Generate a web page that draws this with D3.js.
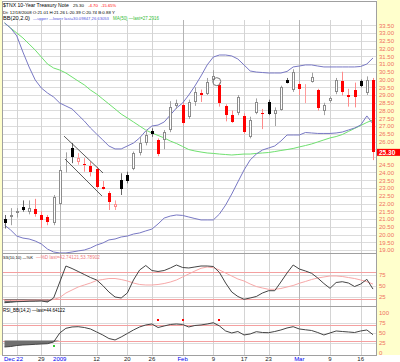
<!DOCTYPE html>
<html>
<head>
<meta charset="utf-8">
<script src="https://cdn.jsdelivr.net/npm/d3@7"></script>
<style>
body { margin: 0; background: #fff; }
svg { display: block; font-family: "Liberation Sans Narrow", "Liberation Sans", Arial, sans-serif; }
</style>
</head>
<body>
<div id="chart"></div>
<script>
// $TNX daily candles, Dec 18 2008 - Mar 18 2009

var dates = [
    "12/18", "12/19", "12/22", "12/23", "12/24", "12/26", "12/29", "12/30", "12/31",
    "1/2", "1/5", "1/6", "1/7", "1/8", "1/9", "1/12", "1/13", "1/14", "1/15", "1/16",
    "1/20", "1/21", "1/22", "1/23", "1/26", "1/27", "1/28", "1/29", "1/30",
    "2/2", "2/3", "2/4", "2/5", "2/6", "2/9", "2/10", "2/11", "2/12", "2/13",
    "2/17", "2/18", "2/19", "2/20", "2/23", "2/24", "2/25", "2/26", "2/27",
    "3/2", "3/3", "3/4", "3/5", "3/6", "3/9", "3/10", "3/11", "3/12", "3/13",
    "3/16", "3/17", "3/18"
];

var opens = [21.01, 21.11, 21.40, 21.79, 21.47, 21.63, 21.26, 21.11, 20.72,
    21.97, 24.80, 25.56, 24.70, 24.55, 24.42, 24.20, 23.04, 22.70, 21.79, 23.52,
    23.84, 24.20, 25.24, 25.88, 26.68, 26.10, 26.10, 26.74, 28.30,
    28.35, 27.60, 28.57, 29.10, 29.06, 29.95, 29.65, 28.30, 27.70, 27.86,
    27.65, 26.31, 27.86, 27.85, 28.57, 27.80, 28.03, 30.00, 29.32,
    29.70, 29.30, 29.86, 29.32, 27.99, 28.60, 29.21, 29.90, 29.00, 29.32,
    29.90, 29.10, 30.00];
var highs = [21.26, 21.70, 21.70, 22.20, 22.20, 22.30, 21.50, 21.26, 22.55,
    24.40, 25.30, 25.90, 25.25, 24.92, 24.70, 24.35, 23.45, 22.80, 22.20, 23.95,
    24.05, 25.35, 26.30, 26.75, 26.85, 26.20, 26.74, 28.60, 28.70,
    28.50, 28.70, 29.50, 29.35, 30.10, 30.60, 29.80, 28.40, 28.00, 29.00,
    27.82, 27.60, 28.78, 28.10, 28.70, 28.20, 29.60, 30.10, 30.66,
    29.85, 29.70, 30.44, 29.40, 28.50, 28.90, 30.10, 30.50, 29.40, 29.80,
    30.00, 30.20, 30.10];
var lows = [20.39, 20.60, 21.10, 21.47, 21.30, 21.15, 20.42, 20.60, 20.60,
    21.90, 24.00, 24.60, 24.50, 24.05, 23.75, 22.95, 22.90, 21.58, 21.58, 22.55,
    23.30, 24.15, 25.10, 25.75, 26.30, 25.05, 25.50, 26.60, 28.10,
    27.05, 27.45, 28.30, 28.55, 29.00, 29.80, 28.25, 27.30, 27.20, 27.70,
    26.50, 26.20, 27.76, 26.80, 27.70, 27.00, 27.99, 29.75, 29.20,
    29.00, 28.48, 29.80, 28.00, 27.70, 28.50, 29.05, 28.97, 28.25, 28.20,
    29.50, 29.00, 24.80];
var closes = [20.74, 21.26, 21.50, 21.58, 21.73, 21.32, 20.94, 20.83, 22.44,
    24.16, 24.90, 25.02, 24.92, 24.50, 24.05, 23.08, 22.95, 22.12, 21.97, 22.92,
    23.47, 25.24, 25.92, 26.45, 26.48, 25.19, 26.63, 28.23, 28.50,
    27.21, 28.57, 29.20, 29.00, 29.86, 30.25, 28.46, 27.70, 27.28, 28.85,
    26.63, 27.39, 28.57, 27.75, 27.80, 28.03, 29.50, 29.80, 30.50,
    29.40, 29.35, 30.14, 28.14, 28.35, 28.80, 29.97, 29.20, 28.90, 28.85,
    29.60, 30.00, 25.30];

// Bollinger bands (20,2) and 50 day MA
var bbUpper = [33.65, 33.32, 32.81, 31.77, 30.81, 29.97, 29.45, 29.13, 28.87,
    28.48, 28.29, 28.10, 27.71, 27.32, 26.87, 26.48, 26.10, 25.71, 25.52, 25.52,
    25.71, 25.90, 26.23, 26.68, 27.00, 27.06, 27.26, 27.71, 28.16,
    28.48, 29.00, 29.58, 30.23, 30.94, 31.45, 31.58, 31.58, 31.52, 31.32,
    30.94, 30.55, 30.48, 30.45, 30.42, 30.42, 30.42, 30.52, 30.81,
    30.87, 30.94, 30.94, 30.87, 30.81, 30.81, 30.81, 30.81, 30.81, 30.81,
    30.84, 31.00, 31.39];
var bbLower = [20.61, 20.29, 19.90, 19.77, 19.71, 19.58, 19.39, 19.06, 18.87,
    18.81, 18.81, 18.87, 18.94, 19.00, 19.13, 19.32, 19.45, 19.65, 19.71, 19.84,
    19.90, 20.03, 20.10, 20.23, 20.35, 20.68, 21.06, 21.19, 21.26,
    21.23, 21.13, 21.03, 20.94, 20.94, 20.94, 21.32, 21.90, 22.61, 23.39,
    24.16, 24.81, 25.19, 25.45, 25.58, 25.71, 26.03, 26.42, 26.42,
    26.42, 26.58, 26.55, 26.52, 26.52, 26.52, 26.55, 26.61, 26.74, 26.87,
    27.06, 27.65, 27.13];
var ma50 = [33.65, 33.32, 33.00, 32.68, 32.29, 31.90, 31.45, 31.00, 30.74,
    30.61, 30.42, 30.16, 29.90, 29.65, 29.32, 29.06, 28.74, 28.42, 28.10, 27.77,
    27.52, 27.26, 27.00, 26.74, 26.55, 26.39, 26.23, 26.03, 25.87,
    25.68, 25.48, 25.39, 25.32, 25.26, 25.23, 25.19, 25.16, 25.13, 25.16,
    25.19, 25.19, 25.23, 25.26, 25.29, 25.35, 25.42, 25.48, 25.55,
    25.65, 25.74, 25.84, 25.97, 26.10, 26.23, 26.32, 26.45, 26.65, 26.84,
    27.03, 27.23, 27.39];

// Slow stochastic (10,10)
var ssK = [12.4, 13.6, 14.7, 15.1, 15.6, 15.8, 16.2, 14.0, 22.9,
    58.4, 94.0, 88.4, 81.8, 75.1, 68.4, 62.9, 50.7, 36.2, 25.1, 22.9,
    34.0, 62.9, 85.1, 95.1, 84.0, 81.8, 84.0, 89.6, 96.2,
    90.7, 89.6, 91.8, 94.0, 94.0, 92.9, 79.6, 56.2, 36.2, 26.2,
    20.0, 22.9, 26.2, 34.0, 39.1, 39.1, 58.4, 78.4, 96.2,
    87.3, 82.9, 77.8, 67.3, 55.1, 44.4, 57.3, 59.1, 56.2, 48.4,
    54.0, 64.4, 42.7];
var ssD = [17.3, 17.3, 17.3, 17.3, 17.8, 18.0, 18.4, 18.4, 19.6,
    24.0, 34.0, 40.7, 47.3, 51.8, 56.2, 61.8, 64.0, 66.2, 66.2, 64.0,
    60.7, 56.2, 52.9, 51.8, 51.8, 52.9, 55.1, 58.4, 62.9,
    69.6, 76.2, 82.9, 88.9, 91.8, 90.2, 85.1, 78.4, 71.8, 65.1,
    60.7, 54.0, 48.4, 45.1, 42.2, 42.2, 44.0, 47.3, 50.7,
    55.6, 59.6, 64.0, 67.3, 69.6, 71.8, 71.8, 70.7, 68.4, 66.2,
    62.9, 59.1, 53.8];

// RSI(14)
var rsiVals = [13.8, 15.0, 17.5, 18.8, 19.5, 20.5, 21.3, 22.0, 26.3,
    48.8, 60.5, 63.8, 64.5, 62.5, 58.8, 51.3, 43.8, 35.0, 31.3, 38.8,
    47.5, 56.3, 63.8, 68.8, 71.3, 62.5, 66.3, 70.0, 71.3,
    70.0, 63.8, 67.5, 68.8, 71.3, 74.5, 66.3, 53.8, 48.8, 52.5,
    43.8, 46.3, 52.0, 50.0, 49.5, 52.5, 56.3, 61.3, 64.5,
    58.8, 56.8, 55.0, 50.0, 43.8, 48.8, 53.8, 52.5, 51.3, 50.0,
    53.8, 56.3, 44.6];
var rsiSellIdx = [25, 29, 35];
var rsiBuyIdx = [8];
var signalHi = 81, signalLo = 16;

// axis labels
var priceTicks = [33.5, 33, 32.5, 32, 31.5, 31, 30.5, 30, 29.5, 29, 28.5, 28, 27.5, 27,
    26.5, 26, 25.5, 25, 24.5, 24, 23.5, 23, 22.5, 22, 21.5, 21, 20.5, 20, 19.5, 19];
var ssTicks = [75, 50, 25];
var rsiTicks = [100, 75, 50, 25, 0];
var dateTickIdx = [2, 6, 9, 15, 20, 24, 29, 34, 39, 43, 48, 53, 58];
var dateTickLabels = ["Dec 22", "29", "2009", "12", "20", "26", "Feb", "9", "17", "23", "Mar", "9", "16"];
var monthTicks = ["Dec 22", "2009", "Feb", "Mar"];

// hand drawn annotations (bar index, price)
var channelUpper = [[9.69, 26.35], [16.04, 23.97]];
var channelLower = [[9.85, 24.87], [15.88, 22.48]];
var circleMark = [34.56, 29.86];

var width = 400, height = 362;
var plotLeft = 2, plotRight = 376;
var mainTop = 1, mainBot = 253, ssBot = 306, rsiBot = 355;

var svg = d3.select("#chart").append("svg")
    .attr("width", width)
    .attr("height", height);

svg.append("rect").attr("width", width).attr("height", height).attr("fill", "#fff");
// yellow axis strips
svg.append("rect").attr("x", plotRight + 1).attr("y", 0)
    .attr("width", width - plotRight - 1).attr("height", rsiBot).attr("fill", "#ffffcc");
svg.append("rect").attr("x", 0).attr("y", 0).attr("width", plotLeft).attr("height", rsiBot)
    .attr("fill", "#ffffcc");

var x = d3.scaleLinear().domain([0, dates.length - 1]).range([4.5, 373]);
var y = d3.scaleLinear().domain([19, 33.5]).range([250, 25.25]);
var ySS = d3.scaleLinear().domain([0, 100]).range([308.3, 263.3]);
var yRSI = d3.scaleLinear().domain([0, 100]).range([352.5, 312.5]);

function clip(id, y0, y1) {
    svg.append("clipPath").attr("id", id).append("rect")
        .attr("x", plotLeft).attr("y", y0).attr("width", plotRight - plotLeft).attr("height", y1 - y0);
}
clip("cMain", 20, mainBot);
clip("cSS", mainBot, ssBot);
clip("cRSI", ssBot, rsiBot);

function crisp(v) { return Math.round(v) + 0.5; }

// grid
var grid = svg.append("g");
priceTicks.forEach(function(p) {
    grid.append("line").attr("x1", plotLeft).attr("x2", plotRight)
        .attr("y1", crisp(y(p))).attr("y2", crisp(y(p)))
        .attr("stroke", "#dcdcdc");
});
[25, 50, 75].forEach(function(v) {
    grid.append("line").attr("x1", plotLeft).attr("x2", plotRight)
        .attr("y1", crisp(ySS(v))).attr("y2", crisp(ySS(v))).attr("stroke", "#dcdcdc");
    grid.append("line").attr("x1", plotLeft).attr("x2", plotRight)
        .attr("y1", crisp(yRSI(v))).attr("y2", crisp(yRSI(v))).attr("stroke", "#dcdcdc");
});
dateTickIdx.forEach(function(d, k) {
    var isMonth = monthTicks.indexOf(dateTickLabels[k]) >= 0 && k > 0;
    grid.append("line")
        .attr("x1", crisp(x(d))).attr("x2", crisp(x(d)))
        .attr("y1", 20).attr("y2", rsiBot)
        .attr("stroke", isMonth ? "#b4b4b4" : "#d4d4d4");
});

// overbought / oversold lines
[20, 80].forEach(function(v) {
    grid.append("line").attr("x1", plotLeft).attr("x2", plotRight)
        .attr("y1", crisp(ySS(v))).attr("y2", crisp(ySS(v))).attr("stroke", "#f4a0a0");
});
[30, 70].forEach(function(v) {
    grid.append("line").attr("x1", plotLeft).attr("x2", plotRight)
        .attr("y1", crisp(yRSI(v))).attr("y2", crisp(yRSI(v))).attr("stroke", "#f4a0a0");
});

// main panel
var main = svg.append("g").attr("clip-path", "url(#cMain)");

function lineOf(arr, sc) {
    return d3.line().x(function(d, i) { return x(i); }).y(function(d) { return sc(d); })(arr);
}

main.append("path").attr("d", lineOf(ma50, y)).attr("fill", "none").attr("stroke", "#6fe06f");
main.append("path").attr("d", lineOf(bbUpper, y)).attr("fill", "none").attr("stroke", "#7878c4");
main.append("path").attr("d", lineOf(bbLower, y)).attr("fill", "none").attr("stroke", "#7878c4");

// candles
var candle = main.selectAll("g.candle").data(dates).enter().append("g").attr("class", "candle");

function barInfo(i) {
    var up = i === 0 || closes[i] >= closes[i - 1];
    var filled = closes[i] < opens[i];
    var body, wick;
    if (filled) {
        body = up ? "#000" : "#ff0000";
        wick = up ? "#666" : "#ff8a8a";
    } else {
        body = up ? "#8c8c8c" : "#ff8a8a";
        wick = up ? "#a0a0a0" : "#ff9c9c";
    }
    return { filled: filled, body: body, wick: wick };
}

candle.append("line")
    .attr("x1", function(d, i) { return crisp(x(i)); })
    .attr("x2", function(d, i) { return crisp(x(i)); })
    .attr("y1", function(d, i) { return y(highs[i]); })
    .attr("y2", function(d, i) { return y(lows[i]); })
    .attr("stroke", function(d, i) { return barInfo(i).wick; });

candle.append("rect")
    .attr("x", function(d, i) {
        var b = barInfo(i);
        return Math.round(x(i)) - 1 + (b.filled ? 0 : 0.5);
    })
    .attr("y", function(d, i) {
        var b = barInfo(i);
        return Math.round(y(Math.max(opens[i], closes[i]))) + (b.filled ? 0 : 0.5);
    })
    .attr("width", function(d, i) { return barInfo(i).filled ? 3 : 2; })
    .attr("height", function(d, i) {
        var b = barInfo(i);
        var h = Math.round(y(Math.min(opens[i], closes[i]))) - Math.round(y(Math.max(opens[i], closes[i])));
        return b.filled ? Math.max(1, h) : Math.max(0, h - 1);
    })
    .attr("fill", function(d, i) { var b = barInfo(i); return b.filled ? b.body : "#fff"; })
    .attr("stroke", function(d, i) { var b = barInfo(i); return b.filled ? "none" : b.body; });

// annotations
[channelUpper, channelLower].forEach(function(seg) {
    main.append("line")
        .attr("x1", x(seg[0][0])).attr("y1", y(seg[0][1]))
        .attr("x2", x(seg[1][0])).attr("y2", y(seg[1][1]))
        .attr("stroke", "#333").attr("stroke-width", 0.8);
});
main.append("circle")
    .attr("cx", x(circleMark[0])).attr("cy", y(circleMark[1])).attr("r", 4)
    .attr("fill", "none").attr("stroke", "#777");

// slow stochastics panel
var ss = svg.append("g").attr("clip-path", "url(#cSS)");
ss.append("path")
    .attr("d", d3.area()
        .x(function(d, i) { return x(i); })
        .y0(ySS(20))
        .y1(function(d) { return ySS(Math.min(d, 20)); })(ssK))
    .attr("fill", "#707070");
ss.append("path").attr("d", lineOf(ssD, ySS)).attr("fill", "none").attr("stroke", "#f7a8a8");
ss.append("path").attr("d", lineOf(ssK, ySS)).attr("fill", "none").attr("stroke", "#444");

// RSI panel
var rp = svg.append("g").attr("clip-path", "url(#cRSI)");
rp.append("path")
    .attr("d", d3.area()
        .x(function(d, i) { return x(i); })
        .y0(yRSI(30))
        .y1(function(d) { return yRSI(Math.min(d, 30)); })(rsiVals))
    .attr("fill", "#707070");
rp.append("path")
    .attr("d", d3.area()
        .x(function(d, i) { return x(i); })
        .y0(yRSI(70))
        .y1(function(d) { return yRSI(Math.max(d, 70)); })(rsiVals))
    .attr("fill", "#c8c8c8");
rp.append("path").attr("d", lineOf(rsiVals, yRSI)).attr("fill", "none").attr("stroke", "#444");
rp.selectAll("rect.sell").data(rsiSellIdx).enter().append("rect")
    .attr("x", function(d) { return Math.round(x(d)) - 1; })
    .attr("y", Math.round(yRSI(signalHi)) - 1)
    .attr("width", 2).attr("height", 2).attr("fill", "#ff0000");
rp.selectAll("rect.buy").data(rsiBuyIdx).enter().append("rect")
    .attr("x", function(d) { return Math.round(x(d)) - 1; })
    .attr("y", Math.round(yRSI(signalLo)) - 1)
    .attr("width", 2).attr("height", 2).attr("fill", "#33cc33");

// frames
var frame = svg.append("g").attr("fill", "none").attr("stroke", "#a0a0a0");
frame.append("rect").attr("x", plotLeft + 0.5).attr("y", mainTop + 0.5)
    .attr("width", plotRight - plotLeft).attr("height", rsiBot - mainTop);
[mainBot, ssBot].forEach(function(v) {
    frame.append("line").attr("x1", plotLeft).attr("x2", plotRight + 1)
        .attr("y1", v + 0.5).attr("y2", v + 0.5);
});

// right axes
var axisColor = "#f07060";
var lastPrice = closes[closes.length - 1];
var priceAxis = svg.append("g")
    .attr("transform", "translate(" + (plotRight + 2) + ",0)")
    .call(d3.axisRight(y)
        .tickValues(priceTicks.filter(function(p) { return Math.abs(y(p) - y(lastPrice)) > 6; }))
        .tickSize(0).tickPadding(1).tickFormat(d3.format(".2f")));
var ssAxis = svg.append("g")
    .attr("transform", "translate(" + (plotRight + 2) + ",0)")
    .call(d3.axisRight(ySS).tickValues(ssTicks).tickSize(0).tickPadding(1));
var rsiAxis = svg.append("g")
    .attr("transform", "translate(" + (plotRight + 2) + ",0)")
    .call(d3.axisRight(yRSI).tickValues(rsiTicks).tickSize(0).tickPadding(1));
[priceAxis, ssAxis, rsiAxis].forEach(function(a) {
    a.select(".domain").remove();
    a.selectAll("text").attr("fill", axisColor).attr("font-size", "6px")
        .attr("font-family", "'Liberation Sans Narrow', 'Liberation Sans', sans-serif");
});

// last price marker
svg.append("rect").attr("x", plotRight + 1).attr("y", y(lastPrice) - 3.5)
    .attr("width", width - plotRight - 1).attr("height", 7).attr("fill", "#ff0000");
svg.append("text").attr("x", plotRight + 3).attr("y", y(lastPrice) + 2.2)
    .attr("font-size", "6.5px").attr("font-weight", "bold").attr("fill", "#fff")
    .text(d3.format(".2f")(lastPrice));

// date labels
svg.append("g").selectAll("text").data(dateTickIdx).enter().append("text")
    .attr("x", function(d, k) { return k === 0 ? 4 : x(d); })
    .attr("y", 360.5)
    .attr("text-anchor", function(d, k) { return k === 0 ? "start" : "middle"; })
    .attr("font-size", "6px")
    .attr("fill", function(d, k) { return monthTicks.indexOf(dateTickLabels[k]) >= 0 ? "#0000ee" : "#222"; })
    .text(function(d, k) { return dateTickLabels[k]; });

// header and panel captions; font shrunk until each piece fits its slot
var hdr = svg.append("g");
function caption(txt, x0, y0, len, col) {
    var t = hdr.append("text").attr("x", x0).attr("y", y0)
        .attr("font-size", "6px").attr("fill", col).text(txt);
    var w = t.node().getComputedTextLength();
    if (w > len) t.attr("font-size", (6 * len / w).toFixed(2) + "px");
}
caption("$TNX 10-Year Treasury Note", 3, 7, 66, "#000");
caption("25.30", 73, 7, 11, "#000");
caption("-4.70", 88, 7, 10, "#ff0000");
caption("-15.65%", 101, 7, 15, "#ff0000");
caption("Dt: 12/18/2008 O:21.01 H:21.26 L:20.39 C:20.74 B:0.88 Y", 3, 13.5, 112, "#000");
caption("BB(20,2.0)", 3, 20, 27, "#000");
caption("\u2014upper \u2014lower last=30.09847,26.63053", 33, 20, 76, "#5555dd");
caption("MA(50) \u2014last=27.2916", 113, 20, 46, "#33bb33");
caption("SS(10,10) \u2014%K", 3, 258.5, 30, "#000");
caption("\u2014%D last=42.74121,53.78902", 36, 258.5, 64, "#f08080");
caption("RSI_BB(14,2) \u2014last=44.64122", 3, 311.5, 62, "#000");
</script>
</body>
</html>
